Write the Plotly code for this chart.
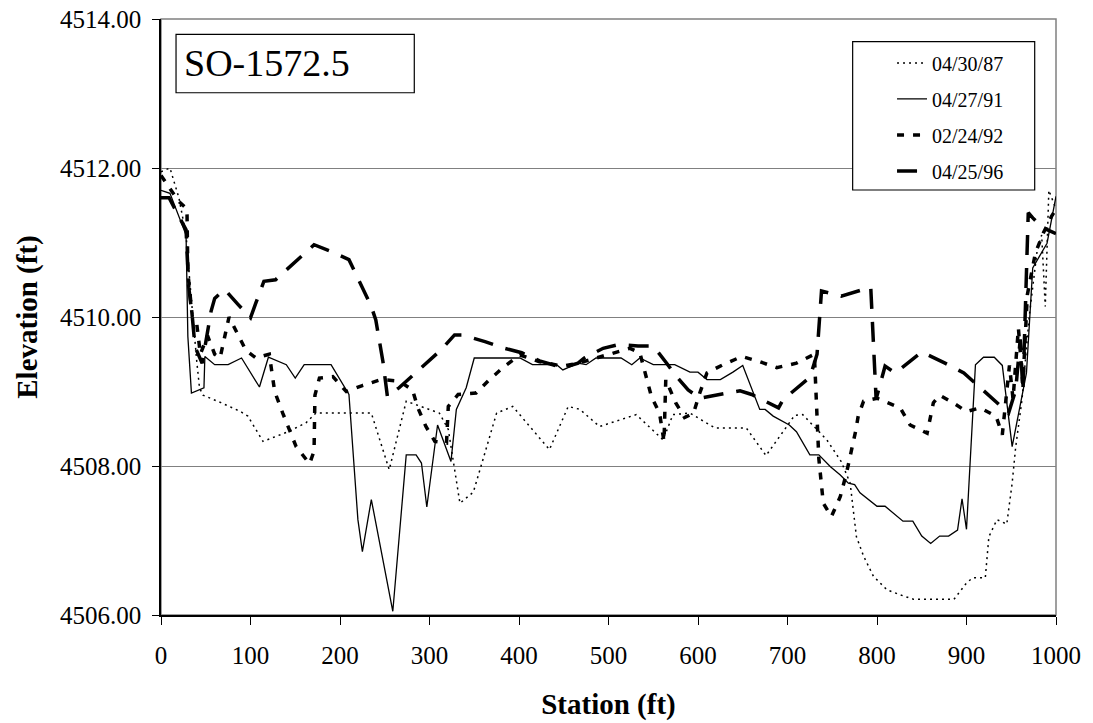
import plotly.graph_objects as go

# Cross-section survey SO-1572.5: station (ft) vs. bed elevation (ft)
sta_1987 = [0, 10, 20, 28, 32, 36, 40, 43, 47, 67, 89, 97, 114, 142, 162, 173, 235, 255,
            274, 311, 321, 334, 349, 375, 393, 434, 455, 468, 490, 531, 561, 572, 591,
            619, 654, 676, 708, 717, 733, 744, 760, 770, 777, 785, 796, 811, 826, 841,
            886, 900, 907, 921, 925, 934, 945, 951, 955, 962, 970, 979, 984, 988, 992, 1000]
elev_1987 = [4511.95, 4512.00, 4511.60, 4511.10, 4510.50, 4509.90, 4509.40, 4509.05, 4508.95,
             4508.85, 4508.73, 4508.67, 4508.33, 4508.46, 4508.58, 4508.71, 4508.71, 4507.95,
             4508.87, 4508.71, 4508.49, 4507.50, 4507.65, 4508.71, 4508.80, 4508.22, 4508.80,
             4508.76, 4508.53, 4508.69, 4508.35, 4508.69, 4508.71, 4508.51, 4508.51, 4508.14,
             4508.68, 4508.69, 4508.49, 4508.35, 4508.06, 4507.77, 4507.05, 4506.79, 4506.52,
             4506.34, 4506.27, 4506.21, 4506.21, 4506.43, 4506.50, 4506.50, 4507.05, 4507.28,
             4507.22, 4507.77, 4508.26, 4508.89, 4510.00, 4510.90, 4511.10, 4510.14, 4511.70,
             4511.45]

sta_1991 = [0, 10, 28, 30, 34, 48, 49, 60, 75, 90, 110, 120, 140, 150, 160, 190, 210, 220,
            225, 235, 259, 274, 285, 291, 297, 309, 324, 330, 341, 350, 401, 415, 442, 449,
            466, 475, 486, 514, 526, 535, 550, 574, 591, 600, 610, 625, 639, 650, 669, 675,
            684, 702, 710, 725, 735, 748, 759, 768, 775, 781, 800, 809, 829, 840, 850, 860,
            870, 880, 890, 895, 900, 910, 919, 931, 940, 951, 967, 974, 990, 1000]
elev_1991 = [4511.70, 4511.66, 4511.10, 4509.74, 4508.98, 4509.05, 4509.47, 4509.36, 4509.36,
             4509.45, 4509.06, 4509.46, 4509.36, 4509.18, 4509.36, 4509.36, 4508.96, 4507.28,
             4506.85, 4507.55, 4506.05, 4508.15, 4508.15, 4508.04, 4507.45, 4508.55, 4508.06,
             4508.76, 4509.05, 4509.45, 4509.45, 4509.36, 4509.36, 4509.29, 4509.38, 4509.36,
             4509.45, 4509.45, 4509.36, 4509.45, 4509.36, 4509.36, 4509.26, 4509.26, 4509.16,
             4509.16, 4509.26, 4509.35, 4508.76, 4508.76, 4508.67, 4508.55, 4508.46, 4508.15,
             4508.15, 4507.99, 4507.88, 4507.77, 4507.75, 4507.64, 4507.46, 4507.46, 4507.26,
             4507.26, 4507.06, 4506.96, 4507.06, 4507.06, 4507.14, 4507.56, 4507.15, 4509.36,
             4509.46, 4509.46, 4509.35, 4508.26, 4509.25, 4510.66, 4510.99, 4511.62]

sta_1992 = [0, 12, 20, 29, 30, 35, 40, 44, 52, 60, 66, 76, 86, 95, 106, 121, 127, 136, 151,
            166, 171, 172, 177, 192, 207, 225, 246, 266, 281, 287, 296, 306, 319, 321, 332,
            352, 367, 384, 401, 423, 449, 466, 498, 524, 535, 541, 548, 557, 562, 564, 575,
            585, 595, 602, 610, 628, 649, 669, 688, 710, 730, 735, 740, 749, 759, 766, 772,
            776, 779, 785, 800, 813, 826, 837, 856, 863, 870, 885, 900, 915, 933, 940, 948,
            952, 958, 963, 968, 977, 986, 995, 1000]
elev_1992 = [4511.90, 4511.70, 4511.55, 4511.45, 4510.60, 4510.00, 4509.90, 4509.50, 4509.75,
             4509.50, 4509.45, 4510.00, 4509.75, 4509.55, 4509.45, 4509.50, 4509.00, 4508.71,
             4508.26, 4508.03, 4508.20, 4508.95, 4509.18, 4509.20, 4509.00, 4509.08, 4509.16,
             4509.14, 4509.02, 4508.78, 4508.53, 4508.33, 4508.31, 4508.80, 4508.96, 4508.98,
             4509.16, 4509.34, 4509.49, 4509.40, 4509.34, 4509.38, 4509.49, 4509.58, 4509.52,
             4509.25, 4508.93, 4508.71, 4508.33, 4509.16, 4508.85, 4508.65, 4508.71, 4508.98,
             4509.25, 4509.36, 4509.47, 4509.40, 4509.32, 4509.38, 4509.50, 4508.10, 4507.50,
             4507.32, 4507.59, 4507.91, 4508.22, 4508.46, 4508.67, 4508.87, 4508.91, 4508.85,
             4508.78, 4508.55, 4508.44, 4508.85, 4508.95, 4508.85, 4508.73, 4508.78, 4508.67,
             4508.42, 4509.35, 4508.90, 4509.85, 4509.10, 4510.30, 4510.86, 4511.13, 4511.35,
             4511.45]

sta_1996 = [0, 9, 28, 31, 35, 38, 46, 52, 56, 60, 71, 86, 100, 106, 115, 128, 157, 171, 190,
            210, 235, 240, 248, 253, 266, 283, 296, 313, 328, 336, 345, 362, 384, 403, 423,
            449, 466, 473, 494, 511, 533, 550, 565, 574, 589, 602, 624, 647, 660, 677, 690,
            695, 725, 733, 738, 760, 793, 799, 809, 820, 828, 850, 859, 876, 897, 909, 927,
            938, 947, 955, 960, 963, 967, 969, 974, 985, 1000]
elev_1996 = [4511.60, 4511.60, 4511.17, 4510.40, 4510.00, 4509.60, 4509.38, 4509.79, 4510.08,
             4510.25, 4510.37, 4510.17, 4509.99, 4510.19, 4510.48, 4510.50, 4510.81, 4510.97,
             4510.88, 4510.77, 4510.14, 4509.96, 4509.40, 4508.93, 4509.05, 4509.23, 4509.38,
             4509.56, 4509.76, 4509.76, 4509.73, 4509.67, 4509.58, 4509.52, 4509.41, 4509.32,
             4509.38, 4509.45, 4509.58, 4509.63, 4509.61, 4509.61, 4509.38, 4509.23, 4509.02,
             4508.91, 4508.96, 4509.01, 4508.96, 4508.86, 4508.78, 4508.89, 4509.19, 4509.50,
             4510.35, 4510.28, 4510.40, 4508.90, 4509.34, 4509.25, 4509.32, 4509.53, 4509.48,
             4509.38, 4509.25, 4509.12, 4508.93, 4508.80, 4508.71, 4509.02, 4509.70, 4509.00,
             4510.50, 4511.40, 4511.33, 4511.20, 4511.12]

x_ticks = [0, 100, 200, 300, 400, 500, 600, 700, 800, 900, 1000]
y_ticks = [4506, 4508, 4510, 4512, 4514]

SERIF = "Liberation Serif, Times New Roman, serif"

series = [
    ("04/30/87", sta_1987, elev_1987, dict(color="black", width=1.5, dash="2px,4px")),
    ("04/27/91", sta_1991, elev_1991, dict(color="black", width=1.3)),
    ("02/24/92", sta_1992, elev_1992, dict(color="black", width=3.5, dash="7px,9px")),
    ("04/25/96", sta_1996, elev_1996, dict(color="black", width=3.5, dash="20px,13px")),
]

fig = go.Figure()
for i, (name, xs, ys, line) in enumerate(series):
    fig.add_trace(go.Scatter(x=xs, y=ys, mode="lines", name=name, line=line,
                             legendgroup=f"g{i}"))

fig.update_layout(
    width=1093, height=723,
    margin=dict(l=161, r=37, t=19, b=108, autoexpand=False),
    paper_bgcolor="white", plot_bgcolor="white",
    font=dict(family=SERIF, color="black", size=25),
    showlegend=True,
    legend=dict(
        x=0.8168, y=0.959, xanchor="left", yanchor="top",
        bgcolor="rgba(0,0,0,0)", borderwidth=0,
        font=dict(family=SERIF, size=20),
        tracegroupgap=7,
    ),
    xaxis=dict(
        range=[0, 1000], tickvals=x_ticks, ticktext=[str(v) for v in x_ticks],
        automargin=False,
        showgrid=False, zeroline=False,
        showline=True, linecolor="black", linewidth=1.5,
        ticks="outside", ticklen=8, tickcolor="black", tickwidth=1,
        ticklabelstandoff=9,
        tickfont=dict(family=SERIF, size=25),
        title=dict(text="<b>Station (ft)</b>", font=dict(family=SERIF, size=29), standoff=26),
    ),
    yaxis=dict(
        range=[4506, 4514], tickvals=y_ticks, ticktext=[f"{v:.2f}" for v in y_ticks],
        automargin=False,
        showgrid=True, gridcolor="#808080", gridwidth=1,
        zeroline=False,
        showline=True, linecolor="black", linewidth=1.5,
        ticks="outside", ticklen=7, tickcolor="black", tickwidth=1,
        ticklabelstandoff=6,
        tickfont=dict(family=SERIF, size=25),
        title=dict(text="<b>Elevation (ft)</b>", font=dict(family=SERIF, size=29), standoff=14),
    ),
    shapes=[
        # plot-area frame (top and right edges)
        dict(type="rect", xref="paper", yref="paper", x0=0, x1=1, y0=0, y1=1,
             line=dict(color="#808080", width=1.5), fillcolor="rgba(0,0,0,0)", layer="below"),
        # section label box
        dict(type="rect", xref="paper", yref="paper",
             x0=0.0168, x1=0.2830, y0=0.8763, y1=0.9743,
             line=dict(color="black", width=1.2), fillcolor="white", layer="above"),
        # legend box
        dict(type="rect", xref="paper", yref="paper",
             x0=0.7728, x1=0.9762, y0=0.7131, y1=0.9619,
             line=dict(color="black", width=1.2), fillcolor="white", layer="above"),
    ],
    annotations=[
        dict(text="SO-1572.5", xref="paper", yref="paper", x=0.0235, y=0.926,
             xanchor="left", yanchor="middle", showarrow=False,
             font=dict(family=SERIF, size=38, color="black")),
    ],
)

fig.write_html("out.html")
